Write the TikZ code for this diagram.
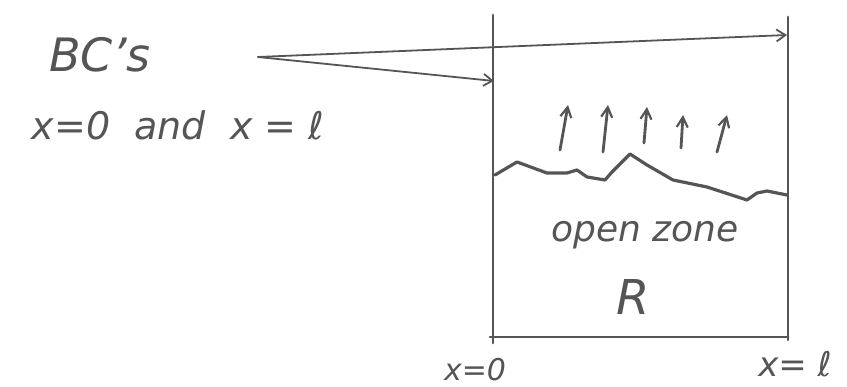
\documentclass[tikz,border=0pt]{standalone}
\usepackage{fontspec}
\setmainfont{DejaVu Sans}
\usetikzlibrary{arrows.meta}
\definecolor{pen}{RGB}{85,85,85}
\begin{document}
\begin{tikzpicture}[x=1pt,y=-1pt,
  penline/.style={draw=pen,line width=2.8pt,line cap=round,line join=round},
  thinpen/.style={draw=pen,line width=1.8pt,line cap=round},
  hand/.style={text=pen,font=\itshape},
  tip/.style={-{Straight Barb[length=9pt,width=12pt,line width=1.8pt]}},
  uptip/.style={-{Straight Barb[length=10pt,width=11pt,line width=2.2pt]}}]
\useasboundingbox (0,0) rectangle (847,387);
% box
\coordinate (tl) at (493,15);
\coordinate (bl) at (493,343);
\coordinate (tr) at (788,17);
\coordinate (br) at (788,340);
\coordinate (b1) at (490,337);
\coordinate (b2) at (788,337);
\draw[penline] (tl) -- (bl);
\draw[penline] (tr) -- (br);
\draw[penline] (b1) -- (b2);
% labels
\node[hand,font=\fontsize{46}{46}\selectfont\itshape] (bcs) at (100,55) {BC's};
\node[hand,font=\fontsize{38}{38}\selectfont\itshape] (bcx) at (178,125) {x=0 \ and \ x = ℓ};
\node[hand,font=\fontsize{36}{36}\selectfont\itshape] (oz) at (645,235) {open zone};
\node[hand,font=\fontsize{48}{48}\selectfont\itshape] (R) at (633,297) {R};
\node[hand,font=\fontsize{30}{30}\selectfont\itshape] (x0) at (475,370) {x=0};
\node[hand,font=\fontsize{34}{34}\selectfont\itshape] (xl) at (795,364) {x= ℓ};
% arrows from BC's
\coordinate (s) at (258,57);
\coordinate (e1) at (787,35);
\coordinate (e2) at (494,81);
\draw[thinpen,tip] (s) -- (e1);
\draw[thinpen,tip] (s) -- (e2);
% wavy front
\draw[penline,line width=3.2pt] (495,175) -- (517,162) -- (547,173) -- (567,173) -- (577,170) -- (587,177) -- (605,180) -- (612,172) -- (630,154) -- (647,165) -- (673,180) -- (707,187) -- (747,200) -- (757,193) -- (767,191) -- (787,195);
% upward arrows
\foreach \a/\b/\c/\d [count=\i] in {560/150/568/105, 603/152/608/105, 644/143/647/107, 681/148/683/115, 717/152/727/115}{
  \coordinate (u\i a) at (\a,\b);
  \coordinate (u\i b) at (\c,\d);
  \draw[penline,uptip] (u\i a) -- (u\i b);
}
\end{tikzpicture}
\end{document}
